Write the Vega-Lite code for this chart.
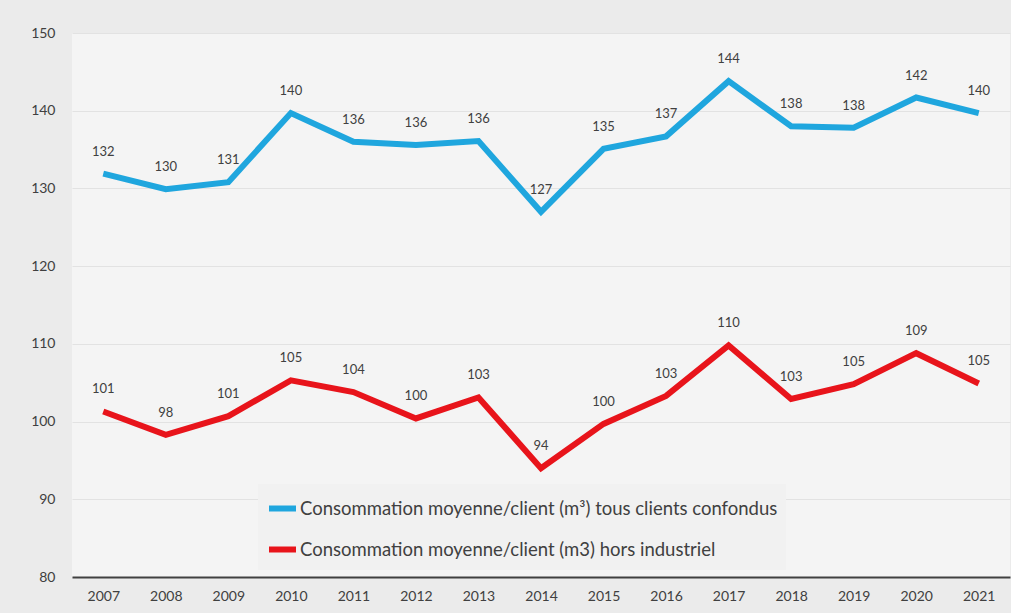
{
  "$schema": "https://vega.github.io/schema/vega-lite/v6.json",
  "autosize": "none",
  "width": 938,
  "height": 544,
  "padding": {"left": 72, "top": 33, "right": 1, "bottom": 36},
  "background": "#ebebeb",
  "config": {
    "view": {"stroke": null, "fill": "#f4f4f4"},
    "font": "Lato",
    "axis": {"labelFont": "Lato", "labelColor": "#404040", "labelFontSize": 14}
  },
  "data": {
    "values": [
      {"year": "2007", "series": "Consommation moyenne/client (m³) tous clients confondus", "value": 131.9},
      {"year": "2008", "series": "Consommation moyenne/client (m³) tous clients confondus", "value": 129.9},
      {"year": "2009", "series": "Consommation moyenne/client (m³) tous clients confondus", "value": 130.8},
      {"year": "2010", "series": "Consommation moyenne/client (m³) tous clients confondus", "value": 139.7},
      {"year": "2011", "series": "Consommation moyenne/client (m³) tous clients confondus", "value": 136.0},
      {"year": "2012", "series": "Consommation moyenne/client (m³) tous clients confondus", "value": 135.6},
      {"year": "2013", "series": "Consommation moyenne/client (m³) tous clients confondus", "value": 136.1},
      {"year": "2014", "series": "Consommation moyenne/client (m³) tous clients confondus", "value": 127.0},
      {"year": "2015", "series": "Consommation moyenne/client (m³) tous clients confondus", "value": 135.1},
      {"year": "2016", "series": "Consommation moyenne/client (m³) tous clients confondus", "value": 136.7},
      {"year": "2017", "series": "Consommation moyenne/client (m³) tous clients confondus", "value": 143.8},
      {"year": "2018", "series": "Consommation moyenne/client (m³) tous clients confondus", "value": 138.0},
      {"year": "2019", "series": "Consommation moyenne/client (m³) tous clients confondus", "value": 137.8},
      {"year": "2020", "series": "Consommation moyenne/client (m³) tous clients confondus", "value": 141.7},
      {"year": "2021", "series": "Consommation moyenne/client (m³) tous clients confondus", "value": 139.7},
      {"year": "2007", "series": "Consommation moyenne/client (m3) hors industriel", "value": 101.3},
      {"year": "2008", "series": "Consommation moyenne/client (m3) hors industriel", "value": 98.3},
      {"year": "2009", "series": "Consommation moyenne/client (m3) hors industriel", "value": 100.7},
      {"year": "2010", "series": "Consommation moyenne/client (m3) hors industriel", "value": 105.3},
      {"year": "2011", "series": "Consommation moyenne/client (m3) hors industriel", "value": 103.8},
      {"year": "2012", "series": "Consommation moyenne/client (m3) hors industriel", "value": 100.4},
      {"year": "2013", "series": "Consommation moyenne/client (m3) hors industriel", "value": 103.1},
      {"year": "2014", "series": "Consommation moyenne/client (m3) hors industriel", "value": 94.0},
      {"year": "2015", "series": "Consommation moyenne/client (m3) hors industriel", "value": 99.7},
      {"year": "2016", "series": "Consommation moyenne/client (m3) hors industriel", "value": 103.3},
      {"year": "2017", "series": "Consommation moyenne/client (m3) hors industriel", "value": 109.8},
      {"year": "2018", "series": "Consommation moyenne/client (m3) hors industriel", "value": 102.9},
      {"year": "2019", "series": "Consommation moyenne/client (m3) hors industriel", "value": 104.8},
      {"year": "2020", "series": "Consommation moyenne/client (m3) hors industriel", "value": 108.8},
      {"year": "2021", "series": "Consommation moyenne/client (m3) hors industriel", "value": 104.9}
    ]
  },
  "encoding": {
    "x": {
      "field": "year", "type": "ordinal",
      "scale": {"type": "point", "padding": 0.5},
      "axis": {"title": null, "labelAngle": 0, "ticks": false, "domainColor": "#404040", "domainWidth": 2, "labelPadding": 12, "grid": false}
    },
    "y": {
      "field": "value", "type": "quantitative",
      "scale": {"domain": [80, 150], "nice": false, "zero": false},
      "axis": {"title": null, "values": [80, 90, 100, 110, 120, 130, 140, 150], "ticks": false, "domain": false, "labelPadding": 17, "gridColor": "#e2e2e2", "gridWidth": 1}
    }
  },
  "layer": [
    {
      "mark": {"type": "line", "strokeWidth": 6, "strokeJoin": "miter"},
      "encoding": {
        "color": {
          "field": "series", "type": "nominal",
          "sort": ["Consommation moyenne/client (m³) tous clients confondus", "Consommation moyenne/client (m3) hors industriel"],
          "scale": {
            "domain": ["Consommation moyenne/client (m³) tous clients confondus", "Consommation moyenne/client (m3) hors industriel"],
            "range": ["#1fa6de", "#e8141b"]
          },
          "legend": {
            "title": null,
            "orient": "none",
            "legendX": 186,
            "legendY": 451,
            "direction": "vertical",
            "fillColor": "#f1f1f1",
            "padding": 8,
            "symbolType": "stroke",
            "symbolStrokeWidth": 6,
            "symbolSize": 729,
            "labelFontSize": 18.5,
            "labelFont": "Lato",
            "labelColor": "#404040",
            "labelLimit": 700,
            "labelOffset": 1,
            "rowPadding": 12,
            "symbolOffset": 0
          }
        }
      }
    },
    {
      "mark": {"type": "text", "baseline": "bottom", "dy": -15, "fontSize": 13, "color": "#404040", "font": "Lato"},
      "encoding": {
        "text": {"field": "value", "type": "quantitative", "format": ".0f"}
      }
    }
  ]
}
